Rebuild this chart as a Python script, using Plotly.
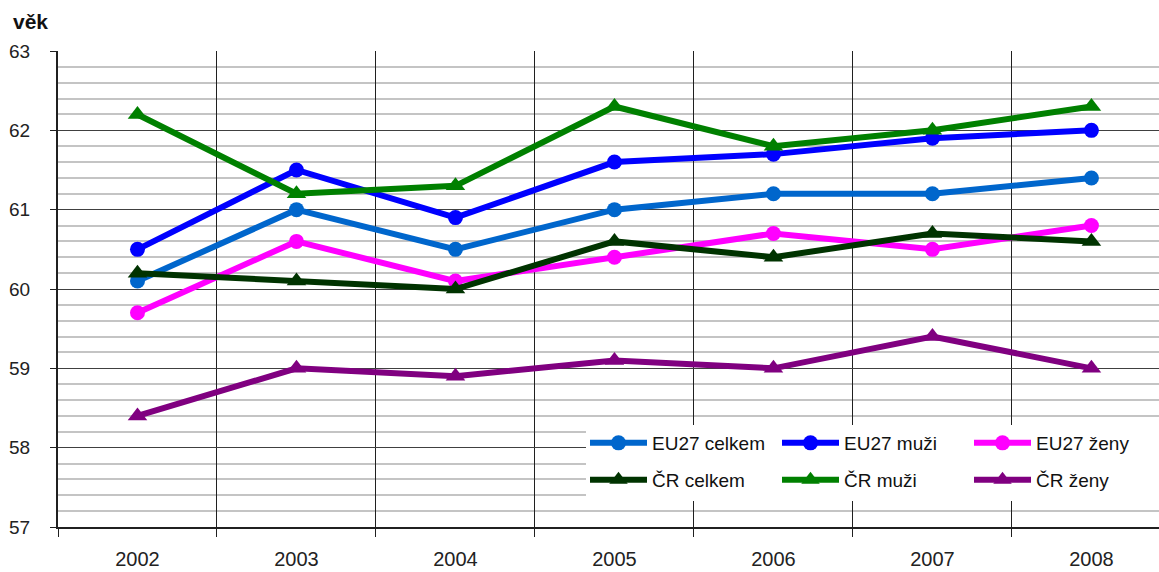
import plotly.graph_objects as go

years = ["2002", "2003", "2004", "2005", "2006", "2007", "2008"]
eu_celkem = [60.1, 61.0, 60.5, 61.0, 61.2, 61.2, 61.4]
eu_muzi = [60.5, 61.5, 60.9, 61.6, 61.7, 61.9, 62.0]
eu_zeny = [59.7, 60.6, 60.1, 60.4, 60.7, 60.5, 60.8]
cr_celkem = [60.2, 60.1, 60.0, 60.6, 60.4, 60.7, 60.6]
cr_muzi = [62.2, 61.2, 61.3, 62.3, 61.8, 62.0, 62.3]
cr_zeny = [58.4, 59.0, 58.9, 59.1, 59.0, 59.4, 59.0]

series = [
    ("EU27 celkem", eu_celkem, "#0066CC", "circle", "legend"),
    ("EU27 muži", eu_muzi, "#0000FF", "circle", "legend"),
    ("EU27 ženy", eu_zeny, "#FF00FF", "circle", "legend"),
    ("ČR celkem", cr_celkem, "#003300", "triangle-up", "legend2"),
    ("ČR muži", cr_muzi, "#008000", "triangle-up", "legend2"),
    ("ČR ženy", cr_zeny, "#800080", "triangle-up", "legend2"),
]

FONT = "Liberation Sans, Arial, sans-serif"

fig = go.Figure()
for name, vals, color, sym, lg in series:
    fig.add_trace(go.Scatter(
        x=years, y=vals, name=name, mode="lines+markers",
        line=dict(color=color, width=6),
        marker=dict(symbol=sym, size=15 if sym == "circle" else 17, color=color),
        legend=lg,
    ))

# white box behind legend
fig.add_shape(type="rect", xref="paper", yref="paper",
              x0=(586 - 58) / 1101, x1=1.0, y0=(527 - 501) / 476, y1=(527 - 425) / 476,
              fillcolor="white", line=dict(width=0), layer="above")

legend_common = dict(
    orientation="h", xanchor="left", yanchor="middle",
    font=dict(family=FONT, size=19, color="#111"),
    bgcolor="rgba(0,0,0,0)", entrywidth=120, entrywidthmode="pixels",
    itemwidth=57, traceorder="normal", itemclick=False,
)

fig.update_layout(
    width=1159, height=572,
    margin=dict(l=58, r=0, t=51, b=45, autoexpand=False),
    paper_bgcolor="white", plot_bgcolor="white",
    font=dict(family=FONT, size=19, color="#111"),
    legend=dict(x=(585 - 58) / 1101, y=(527 - 443) / 476, **legend_common),
    legend2=dict(x=(585 - 58) / 1101, y=(527 - 480) / 476, **legend_common),
    annotations=[dict(text="<b>věk</b>", xref="paper", yref="paper",
                      x=-47 / 1101, y=(527 - 22) / 476, xanchor="left", yanchor="middle",
                      showarrow=False, font=dict(family=FONT, size=21, color="#111"))],
    showlegend=True,
)

fig.update_xaxes(
    type="category", range=[-0.5, 6.425], tickson="boundaries",
    showgrid=True, gridcolor="#202020", gridwidth=1,
    ticks="outside", ticklen=8, tickcolor="#202020",
    showline=True, linecolor="#202020", linewidth=2,
    ticklabelstandoff=13, tickfont=dict(family=FONT, size=20, color="#222"),
    zeroline=False,
)
fig.update_yaxes(
    range=[57, 63], dtick=1, tick0=57,
    showgrid=True, gridcolor="#404040", gridwidth=1,
    minor=dict(dtick=0.2, showgrid=True, gridcolor="#c4c4c4", gridwidth=2),
    ticks="outside", ticklen=6, tickcolor="#202020",
    showline=True, linecolor="#202020", linewidth=2,
    ticklabelstandoff=16, tickfont=dict(family=FONT, size=19, color="#222"),
    zeroline=False,
)

fig.write_html("out.html", config={"displayModeBar": False},
               post_script="document.body.style.margin='0';document.body.style.overflow='hidden';")
